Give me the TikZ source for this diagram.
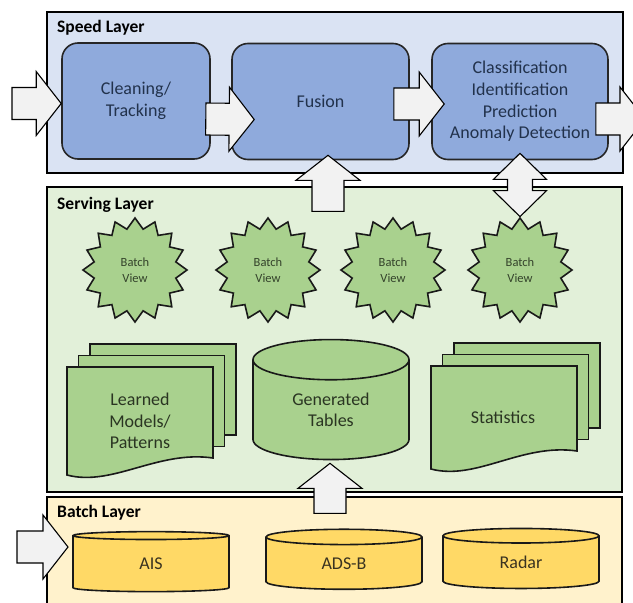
\documentclass[tikz,border=0pt]{standalone}
\usepackage{fontspec}
\setmainfont{Carlito}
\usepackage{tikz}
\usetikzlibrary{positioning,shapes.geometric,calc}
\definecolor{speedfill}{HTML}{DAE3F3}
\definecolor{procfill}{HTML}{8FAADC}
\definecolor{proctext}{HTML}{22324C}
\definecolor{servfill}{HTML}{E2F0D9}
\definecolor{greenfill}{HTML}{A9D18E}
\definecolor{greentext}{HTML}{2A3522}
\definecolor{viewtext}{HTML}{34432B}
\definecolor{batchfill}{HTML}{FFF2CC}
\definecolor{goldfill}{HTML}{FFD966}
\definecolor{goldtext}{HTML}{3A3320}
\definecolor{arrowfill}{HTML}{F2F2F2}

\begin{document}
\begin{tikzpicture}[x=1pt,y=-1pt,
    layer/.style={draw=black,line width=2.6},
    title/.style={anchor=west,inner sep=0,font=\bfseries\fontsize{17.5}{20}\selectfont},
    proc/.style={draw=black!85,line width=1.6,rounded corners=16,fill=procfill,text=proctext,
        align=center,minimum height=116,inner sep=0,font=\fontsize{18}{21.6}\selectfont},
    batchview/.style={star,star points=16,star point ratio=1.25,draw=black!90,line width=1.6,
        fill=greenfill,minimum size=104,inner sep=0,text=viewtext,align=center,
        font=\fontsize{12.5}{15.5}\selectfont},
    store/.style={cylinder,shape border rotate=90,draw=black!90,line width=1.6,
        minimum width=156,inner sep=0,align=center,font=\fontsize{18}{21.6}\selectfont},
    page/.style={draw=black!90,line width=1.6,fill=greenfill},
    doctext/.style={text=greentext,align=center,font=\fontsize{18}{21.6}\selectfont},
    fatarrow/.style n args={3}{draw=black,line width=1.1,fill=arrowfill,to path={
        let \p1=(\tikztostart), \p2=(\tikztotarget), \p3=($(\p2)!#3!(\p1)$) in
        ($(\p1)!#1!90:(\p2)$) -- ($(\p3)!#1!-90:(\p1)$) -- ($(\p3)!#2!-90:(\p1)$) -- (\p2)
        -- ($(\p3)!#2!90:(\p1)$) -- ($(\p3)!#1!90:(\p1)$) -- ($(\p1)!#1!-90:(\p2)$) -- cycle}},
    bigarrow/.style={fatarrow={16pt}{32pt}{25pt}},
    dblarrow/.style={draw=black,line width=1.1,fill=arrowfill,to path={
        let \p1=(\tikztostart), \p2=(\tikztotarget), \p3=($(\p2)!26pt!(\p1)$),
            \p4=($(\p1)!26pt!(\p2)$) in
        (\p1) -- ($(\p4)!26.5pt!90:(\p2)$) -- ($(\p4)!12.5pt!90:(\p2)$)
        -- ($(\p3)!12.5pt!-90:(\p1)$) -- ($(\p3)!26.5pt!-90:(\p1)$) -- (\p2)
        -- ($(\p3)!26.5pt!90:(\p1)$) -- ($(\p3)!12.5pt!90:(\p1)$)
        -- ($(\p4)!12.5pt!-90:(\p2)$) -- ($(\p4)!26.5pt!-90:(\p2)$) -- cycle}},
    pics/docstack/.style n args={3}{code={
        \draw[page] (23,-23) rectangle ++(#1,#2);
        \draw[page] (11.5,-11.5) rectangle ++(#1,#2);
        \draw[page] (0,0) -- (#1,0) -- (#1,#2)
            .. controls (0.62*#1,#2-8) and (0.31*#1,#2+#3+12) .. (0,#2+#3) -- cycle;
    }},
]
    \useasboundingbox (0,0) rectangle (633,603);
    \clip (0,0) rectangle (633,603);
    \fill[white] (0,0) rectangle (633,603);

    % SPEED LAYER
    \draw[layer,fill=speedfill] (47,12) rectangle (623,173);
    \node[title] (speedtitle) at (57,28) {Speed Layer};
    \node[proc,minimum width=148] (clean) at (136,101) {Cleaning/\\Tracking};
    \node[proc,minimum width=177] (fusion) at (320.5,101.5) {Fusion};
    \node[proc,minimum width=176] (classify) at (520,101.5)
        {Classification\\Identification\\Prediction\\Anomaly Detection};

    % SERVING LAYER
    \draw[layer,fill=servfill] (47,187) rectangle (622,492);
    \node[title] (servtitle) at (57,205) {Serving Layer};
    \node[batchview] (bv1) at (135,270) {Batch\\View};
    \node[batchview] (bv2) at (268,270) {Batch\\View};
    \node[batchview] (bv3) at (393,270) {Batch\\View};
    \node[batchview] (bv4) at (520,270) {Batch\\View};

    \pic at (67,367) {docstack={146}{91}{17}};
    \node[doctext] (models) at (140,421) {Learned\\Models/\\Patterns};
    \node[store,fill=greenfill,text=greentext,minimum height=120,aspect=0.52] (gentab)
        at (331,410) {Generated\\Tables};
    \pic at (431,366) {docstack={146}{85}{18}};
    \node[doctext] (stats) at (503,417) {Statistics};

    % BATCH LAYER
    \draw[layer,fill=batchfill] (47,497) rectangle (622,620);
    \node[title] (batchtitle) at (57,513) {Batch Layer};
    \node[store,fill=goldfill,text=goldtext,minimum height=60,aspect=0.34] (ais)
        at (151,564) {AIS};
    \node[store,fill=goldfill,text=goldtext,minimum height=60,aspect=0.34] (adsb)
        at (344,563.5) {ADS-B};
    \node[store,fill=goldfill,text=goldtext,minimum height=60,aspect=0.34] (radar)
        at (521,562.5) {Radar};

    % FLECHES
    \coordinate (speed-in) at (12,103.5);
    \coordinate (speed-out) at (645,119);
    \coordinate (batch-in) at (17,547);
    \draw[bigarrow] (speed-in) to ($(clean.west)+(0,2.5)$);
    \draw[bigarrow] ($(clean.east)+(-5,18)$) to ($(fusion.west)+(23,18)$);
    \draw[bigarrow] ($(fusion.east)+(-16,2.5)$) to ($(classify.west)+(13,2.5)$);
    \draw[bigarrow] ($(classify.east)+(-13,17.5)$) to (speed-out);
    \draw[bigarrow] ($(fusion.south)+(7.5,51)$) to ($(fusion.south)+(7.5,-5)$);
    \draw[dblarrow] (bv4.north) to ($(classify.south)+(0,-7)$);
    \draw[bigarrow] ($(gentab.south)+(-1,53)$) to ($(gentab.south)+(-1,3)$);
    \draw[bigarrow] (batch-in) to ($(ais.center)+(-83,-17)$);

\end{tikzpicture}
\end{document}
